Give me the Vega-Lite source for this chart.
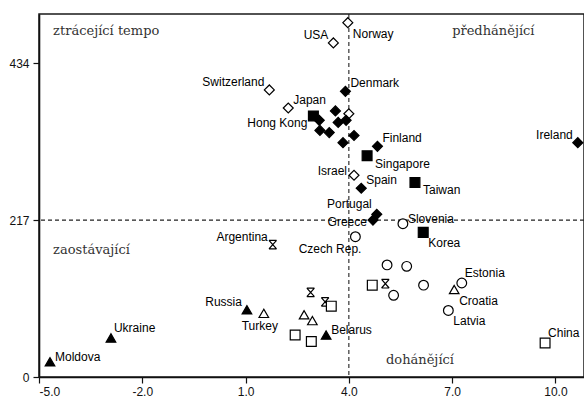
{
  "$schema": "https://vega.github.io/schema/vega-lite/v6.json",
  "width": 545,
  "height": 363,
  "autosize": {"type": "none"},
  "padding": {"left": 39, "top": 14, "right": 0, "bottom": 24},
  "background": "white",
  "config": {
    "view": {"stroke": "#1a1a1a", "strokeWidth": 1.5},
    "axis": {
      "grid": false,
      "title": null,
      "domainColor": "#111",
      "domainWidth": 1.6,
      "tickColor": "#111",
      "tickSize": 6,
      "tickWidth": 1.2,
      "labelFont": "Liberation Sans",
      "labelFontSize": 12,
      "labelColor": "#111"
    }
  },
  "datasets": {
    "zeme": [
      {"country": "Norway", "group": "vyspělé", "x": 3.97, "y": 490},
      {"country": "USA", "group": "vyspělé", "x": 3.55, "y": 462},
      {"country": "Switzerland", "group": "vyspělé", "x": 1.69, "y": 397},
      {"country": "Japan", "group": "vyspělé", "x": 2.24, "y": 372},
      {"country": "Canada", "group": "vyspělé", "x": 4.0, "y": 364},
      {"country": "Israel", "group": "vyspělé", "x": 4.15, "y": 279},
      {"country": "Denmark", "group": "EU15", "x": 3.9, "y": 395},
      {"country": "Sweden", "group": "EU15", "x": 3.61, "y": 368},
      {"country": "Netherlands", "group": "EU15", "x": 3.14, "y": 355},
      {"country": "Austria", "group": "EU15", "x": 3.69, "y": 352},
      {"country": "Belgium", "group": "EU15", "x": 3.92, "y": 355},
      {"country": "Germany", "group": "EU15", "x": 3.16, "y": 341},
      {"country": "France", "group": "EU15", "x": 3.43, "y": 338},
      {"country": "United Kingdom", "group": "EU15", "x": 4.15, "y": 334},
      {"country": "Italy", "group": "EU15", "x": 3.83, "y": 324},
      {"country": "Finland", "group": "EU15", "x": 4.83, "y": 319},
      {"country": "Spain", "group": "EU15", "x": 4.36, "y": 261},
      {"country": "Ireland", "group": "EU15", "x": 10.65, "y": 324},
      {"country": "Portugal", "group": "EU15", "x": 4.81, "y": 225},
      {"country": "Greece", "group": "EU15", "x": 4.7, "y": 217},
      {"country": "Hong Kong", "group": "tygři", "x": 2.97, "y": 361},
      {"country": "Singapore", "group": "tygři", "x": 4.53, "y": 306},
      {"country": "Taiwan", "group": "tygři", "x": 5.92, "y": 269},
      {"country": "Korea", "group": "tygři", "x": 6.16, "y": 200},
      {"country": "Slovenia", "group": "NČS", "x": 5.57, "y": 212},
      {"country": "Czech Rep.", "group": "NČS", "x": 4.19, "y": 194},
      {"country": "Hungary", "group": "NČS", "x": 5.11, "y": 155},
      {"country": "Slovakia", "group": "NČS", "x": 5.68, "y": 153},
      {"country": "Poland", "group": "NČS", "x": 6.17, "y": 127},
      {"country": "Lithuania", "group": "NČS", "x": 5.3, "y": 113},
      {"country": "Estonia", "group": "NČS", "x": 7.28, "y": 130},
      {"country": "Latvia", "group": "NČS", "x": 6.89, "y": 92},
      {"country": "Croatia", "group": "JVE", "x": 7.06, "y": 121},
      {"country": "Turkey", "group": "JVE", "x": 1.53, "y": 88},
      {"country": "Romania", "group": "JVE", "x": 2.7, "y": 86},
      {"country": "Bulgaria", "group": "JVE", "x": 2.94, "y": 78},
      {"country": "Argentina", "group": "LatAm", "x": 1.79, "y": 183},
      {"country": "Chile", "group": "LatAm", "x": 5.06, "y": 129},
      {"country": "Mexico", "group": "LatAm", "x": 2.89, "y": 117},
      {"country": "Brazil", "group": "LatAm", "x": 3.31, "y": 104},
      {"country": "Malaysia", "group": "Asie", "x": 4.68, "y": 127},
      {"country": "Thailand", "group": "Asie", "x": 3.49, "y": 98},
      {"country": "Philippines", "group": "Asie", "x": 2.44, "y": 58},
      {"country": "Indonesia", "group": "Asie", "x": 2.91, "y": 49},
      {"country": "China", "group": "Asie", "x": 9.7, "y": 47},
      {"country": "Russia", "group": "SNS", "x": 1.04, "y": 93},
      {"country": "Belarus", "group": "SNS", "x": 3.34, "y": 58},
      {"country": "Ukraine", "group": "SNS", "x": -2.91, "y": 54},
      {"country": "Moldova", "group": "SNS", "x": -4.68, "y": 21}
    ],
    "prumer": [{"x": 4.0, "y": 217}],
    "kvadranty": [
      {"text": "ztrácející tempo", "x": -4.59, "y": 478},
      {"text": "předhánějící", "x": 7.0, "y": 478},
      {"text": "zaostávající", "x": -4.59, "y": 175},
      {"text": "dohánějící", "x": 5.08, "y": 24}
    ]
  },
  "layer": [
    {
      "data": {"name": "prumer"},
      "mark": {"type": "rule", "stroke": "#222", "strokeWidth": 1.1, "strokeDash": [4, 3]},
      "encoding": {
        "x": {"field": "x", "type": "quantitative", "title": null,
              "scale": {"domain": [-5, 10.83], "nice": false, "zero": false},
              "axis": {"values": [-5, -2, 1, 4, 7, 10], "labelExpr": "replace(format(datum.value, '.1f'), '−', '-')", "labelPadding": 3}}
      }
    },
    {
      "data": {"name": "prumer"},
      "mark": {"type": "rule", "stroke": "#222", "strokeWidth": 1.1, "strokeDash": [4, 3]},
      "encoding": {
        "y": {"field": "y", "type": "quantitative", "title": null,
              "scale": {"domain": [0, 502], "nice": false, "zero": false},
              "axis": {"values": [0, 217, 434], "format": "d", "labelPadding": 4}}
      }
    },
    {
      "data": {"name": "kvadranty"},
      "mark": {"type": "text", "font": "DejaVu Serif", "fontSize": 13, "align": "left", "baseline": "middle", "fill": "#333"},
      "encoding": {
        "x": {"field": "x", "type": "quantitative", "title": null},
        "y": {"field": "y", "type": "quantitative", "title": null},
        "text": {"field": "text"}
      }
    },
    {
      "data": {"name": "zeme"},
      "mark": {"type": "point", "filled": true, "stroke": "#000", "strokeWidth": 1.2, "opacity": 1},
      "encoding": {
        "x": {"field": "x", "type": "quantitative", "title": null},
        "y": {"field": "y", "type": "quantitative", "title": null},
        "shape": {"field": "group", "type": "nominal", "legend": null,
          "scale": {
            "domain": ["EU15", "vyspělé", "tygři", "Asie", "NČS", "SNS", "JVE", "LatAm"],
            "range": ["diamond", "diamond", "square", "square", "circle", "triangle-up", "triangle-up", "M-0.8,-0.9L0.8,-0.9M-0.8,0.9L0.8,0.9M-0.8,-0.9L0.8,0.9M0.8,-0.9L-0.8,0.9"]
          }},
        "fill": {"field": "group", "type": "nominal", "legend": null,
          "scale": {
            "domain": ["EU15", "vyspělé", "tygři", "Asie", "NČS", "SNS", "JVE", "LatAm"],
            "range": ["#000", "#fff", "#000", "#fff", "#fff", "#000", "#fff", "#fff"]
          }},
        "size": {"field": "group", "type": "nominal", "legend": null,
          "scale": {
            "domain": ["EU15", "vyspělé", "tygři", "Asie", "NČS", "SNS", "JVE", "LatAm"],
            "range": [100, 90, 70, 64, 60, 110, 100, 64]
          }}
      }
    },
    {
      "data": {"name": "zeme"},
      "transform": [{"filter": {"field": "country", "oneOf": ["Japan", "Denmark", "Finland", "Spain"]}}],
      "mark": {"type": "text", "font": "Liberation Sans", "fontSize": 12, "fill": "#000", "align": "left", "baseline": "middle", "dx": 5, "dy": -8},
      "encoding": {"x": {"field": "x", "type": "quantitative", "title": null}, "y": {"field": "y", "type": "quantitative", "title": null}, "text": {"field": "country"}}
    },
    {
      "data": {"name": "zeme"},
      "transform": [{"filter": {"field": "country", "oneOf": ["Estonia", "Ukraine", "China"]}}],
      "mark": {"type": "text", "font": "Liberation Sans", "fontSize": 12, "fill": "#000", "align": "left", "baseline": "middle", "dx": 3, "dy": -10},
      "encoding": {"x": {"field": "x", "type": "quantitative", "title": null}, "y": {"field": "y", "type": "quantitative", "title": null}, "text": {"field": "country"}}
    },
    {
      "data": {"name": "zeme"},
      "transform": [{"filter": {"field": "country", "oneOf": ["Slovenia", "Belarus", "Moldova"]}}],
      "mark": {"type": "text", "font": "Liberation Sans", "fontSize": 12, "fill": "#000", "align": "left", "baseline": "middle", "dx": 5, "dy": -5},
      "encoding": {"x": {"field": "x", "type": "quantitative", "title": null}, "y": {"field": "y", "type": "quantitative", "title": null}, "text": {"field": "country"}}
    },
    {
      "data": {"name": "zeme"},
      "transform": [{"filter": {"field": "country", "oneOf": ["Norway", "Korea", "Croatia", "Latvia"]}}],
      "mark": {"type": "text", "font": "Liberation Sans", "fontSize": 12, "fill": "#000", "align": "left", "baseline": "middle", "dx": 5, "dy": 11},
      "encoding": {"x": {"field": "x", "type": "quantitative", "title": null}, "y": {"field": "y", "type": "quantitative", "title": null}, "text": {"field": "country"}}
    },
    {
      "data": {"name": "zeme"},
      "transform": [{"filter": {"field": "country", "oneOf": ["Singapore", "Taiwan"]}}],
      "mark": {"type": "text", "font": "Liberation Sans", "fontSize": 12, "fill": "#000", "align": "left", "baseline": "middle", "dx": 8, "dy": 8},
      "encoding": {"x": {"field": "x", "type": "quantitative", "title": null}, "y": {"field": "y", "type": "quantitative", "title": null}, "text": {"field": "country"}}
    },
    {
      "data": {"name": "zeme"},
      "transform": [{"filter": {"field": "country", "oneOf": ["USA", "Switzerland", "Ireland", "Argentina", "Russia"]}}],
      "mark": {"type": "text", "font": "Liberation Sans", "fontSize": 12, "fill": "#000", "align": "right", "baseline": "middle", "dx": -5, "dy": -8},
      "encoding": {"x": {"field": "x", "type": "quantitative", "title": null}, "y": {"field": "y", "type": "quantitative", "title": null}, "text": {"field": "country"}}
    },
    {
      "data": {"name": "zeme"},
      "transform": [{"filter": {"field": "country", "oneOf": ["Portugal"]}}],
      "mark": {"type": "text", "font": "Liberation Sans", "fontSize": 12, "fill": "#000", "align": "right", "baseline": "middle", "dx": -5, "dy": -10},
      "encoding": {"x": {"field": "x", "type": "quantitative", "title": null}, "y": {"field": "y", "type": "quantitative", "title": null}, "text": {"field": "country"}}
    },
    {
      "data": {"name": "zeme"},
      "transform": [{"filter": {"field": "country", "oneOf": ["Israel"]}}],
      "mark": {"type": "text", "font": "Liberation Sans", "fontSize": 12, "fill": "#000", "align": "right", "baseline": "middle", "dx": -7, "dy": -4},
      "encoding": {"x": {"field": "x", "type": "quantitative", "title": null}, "y": {"field": "y", "type": "quantitative", "title": null}, "text": {"field": "country"}}
    },
    {
      "data": {"name": "zeme"},
      "transform": [{"filter": {"field": "country", "oneOf": ["Greece"]}}],
      "mark": {"type": "text", "font": "Liberation Sans", "fontSize": 12, "fill": "#000", "align": "right", "baseline": "middle", "dx": -6, "dy": 2},
      "encoding": {"x": {"field": "x", "type": "quantitative", "title": null}, "y": {"field": "y", "type": "quantitative", "title": null}, "text": {"field": "country"}}
    },
    {
      "data": {"name": "zeme"},
      "transform": [{"filter": {"field": "country", "oneOf": ["Hong Kong"]}}],
      "mark": {"type": "text", "font": "Liberation Sans", "fontSize": 12, "fill": "#000", "align": "right", "baseline": "middle", "dx": -6, "dy": 7},
      "encoding": {"x": {"field": "x", "type": "quantitative", "title": null}, "y": {"field": "y", "type": "quantitative", "title": null}, "text": {"field": "country"}}
    },
    {
      "data": {"name": "zeme"},
      "transform": [{"filter": {"field": "country", "oneOf": ["Turkey"]}}],
      "mark": {"type": "text", "font": "Liberation Sans", "fontSize": 12, "fill": "#000", "align": "center", "baseline": "middle", "dx": -4, "dy": 13},
      "encoding": {"x": {"field": "x", "type": "quantitative", "title": null}, "y": {"field": "y", "type": "quantitative", "title": null}, "text": {"field": "country"}}
    },
    {
      "data": {"name": "zeme"},
      "transform": [{"filter": {"field": "country", "oneOf": ["Czech Rep."]}}],
      "mark": {"type": "text", "font": "Liberation Sans", "fontSize": 12, "fill": "#000", "align": "right", "baseline": "middle", "dx": 6, "dy": 12},
      "encoding": {"x": {"field": "x", "type": "quantitative", "title": null}, "y": {"field": "y", "type": "quantitative", "title": null}, "text": {"field": "country"}}
    }
  ]
}
